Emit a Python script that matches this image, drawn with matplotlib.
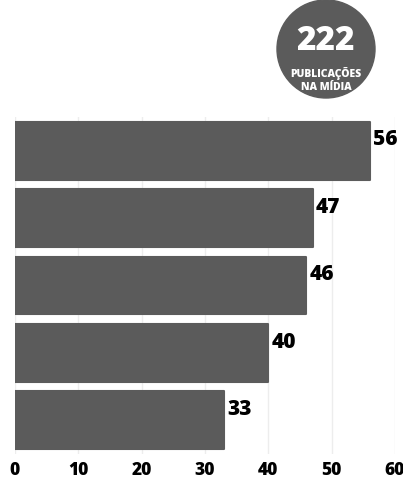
import matplotlib.pyplot as plt
from matplotlib.patches import Circle

# data
values = [56, 47, 46, 40, 33]
xticks = [0, 10, 20, 30, 40, 50, 60]
total = 222
bar_color = '#5b5b5b'

plt.rcParams['font.family'] = ['Open Sans', 'DejaVu Sans']

fig = plt.figure(figsize=(4.03, 4.81), dpi=100)
ax = fig.add_axes([15 / 403, 1 - 455 / 481, 380 / 403, (455 - 118) / 481])

pos = list(range(len(values)))
ax.barh(pos, values, height=0.86, color=bar_color, edgecolor=bar_color,
        linewidth=1.5, joinstyle='round', zorder=2)
for p, v in zip(pos, values):
    ax.text(v + 0.5, p - 0.33, str(v), ha='left', va='top',
            fontsize=15, fontweight=800, color='black')

ax.set_xlim(0, 60)
ax.set_ylim(4.5, -0.5)
ax.set_xticks(xticks)
ax.set_xticklabels([str(t) for t in xticks], fontsize=12.5, fontweight=800)
ax.set_yticks([])
ax.tick_params(axis='x', length=0, pad=5)
ax.grid(axis='x', color='#ededed', linewidth=1, zorder=0)
for s in ax.spines.values():
    s.set_visible(False)

# badge with total
cx, r = 326, 49
circ = Circle((cx, 481 - 50), r, transform=None, color=bar_color, zorder=1)
fig.patches.append(circ)
fig.text(cx / 403, 1 - 41 / 481, str(total), ha='center', va='center', color='white',
         fontsize=24, fontweight=800, zorder=6)
fig.text(cx / 403, 1 - 73 / 481, 'PUBLICAÇÕES', ha='center', va='center', color='white',
         fontsize=7.5, fontweight=800, zorder=6)
fig.text(cx / 403, 1 - 88 / 481, 'NA MÍDIA', ha='center', va='center', color='white',
         fontsize=7.5, fontweight=800, zorder=6)

fig.savefig('out.png', dpi=100)
